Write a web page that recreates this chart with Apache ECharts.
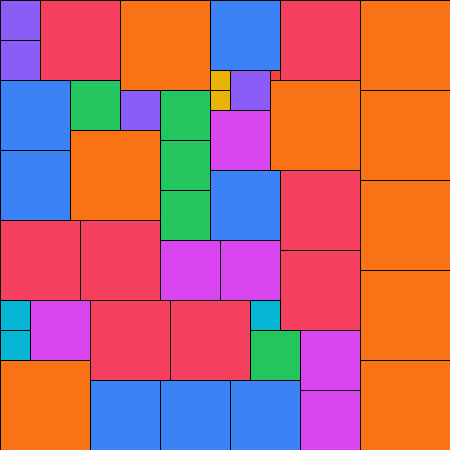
<!DOCTYPE html>
<html>
<head>
<meta charset="utf-8">
<script src="https://cdn.jsdelivr.net/npm/echarts@6/dist/echarts.min.js"></script>
<style>html,body{margin:0;padding:0;background:#fff}#c{width:450px;height:450px}</style>
</head>
<body>
<div id="c"></div>
<script>
// Square packing: left, top, side length
const xs    = [0, 0, 40, 120, 210, 280, 360, 360, 360, 360, 360, 210, 210, 230, 270, 270, 0, 0, 70, 120, 160, 160, 160, 70, 210, 210, 280, 280, 0, 80, 160, 220, 0, 0, 30, 90, 170, 250, 250, 300, 300, 0, 90, 160, 230];
const ys    = [0, 40, 0, 0, 0, 0, 0, 90, 180, 270, 360, 70, 90, 70, 70, 80, 80, 150, 80, 90, 90, 140, 190, 130, 110, 170, 170, 250, 220, 220, 240, 240, 300, 330, 300, 300, 300, 300, 330, 330, 390, 360, 380, 380, 380];
const sizes = [40, 40, 80, 90, 70, 80, 90, 90, 90, 90, 90, 20, 20, 40, 10, 90, 70, 70, 50, 40, 50, 50, 50, 90, 60, 70, 80, 80, 80, 80, 60, 60, 30, 30, 60, 80, 80, 30, 50, 60, 60, 90, 70, 70, 70];
const sizeKeys = [10, 20, 30, 40, 50, 60, 70, 80, 90];
const sizeColors = ['#EF4444', '#EAB308', '#06B6D4', '#8B5CF6', '#22C55E', '#D946EF', '#3B82F6', '#F43F5E', '#F97316'];

const data = xs.map((x, i) => [x, ys[i], sizes[i]]);
const chart = echarts.init(document.getElementById('c'), null, {renderer: 'canvas'});
chart.setOption({
  animation: false,
  grid: {left: 0, right: 0, top: 0, bottom: 0},
  xAxis: {type: 'value', min: 0, max: 450, show: false},
  yAxis: {type: 'value', min: 0, max: 450, inverse: true, show: false},
  series: [{
    type: 'custom',
    data: data,
    renderItem: function (params, api) {
      const x = api.value(0), y = api.value(1), s = api.value(2);
      const p0 = api.coord([x, y]);
      const p1 = api.coord([x + s, y + s]);
      const col = sizeColors[sizeKeys.indexOf(s)];
      return {
        type: 'rect',
        shape: {x: p0[0] + 0.5, y: p0[1] + 0.5, width: p1[0] - p0[0], height: p1[1] - p0[1]},
        style: {fill: col, stroke: '#000', lineWidth: 1}
      };
    }
  }]
});
</script>
</body>
</html>
